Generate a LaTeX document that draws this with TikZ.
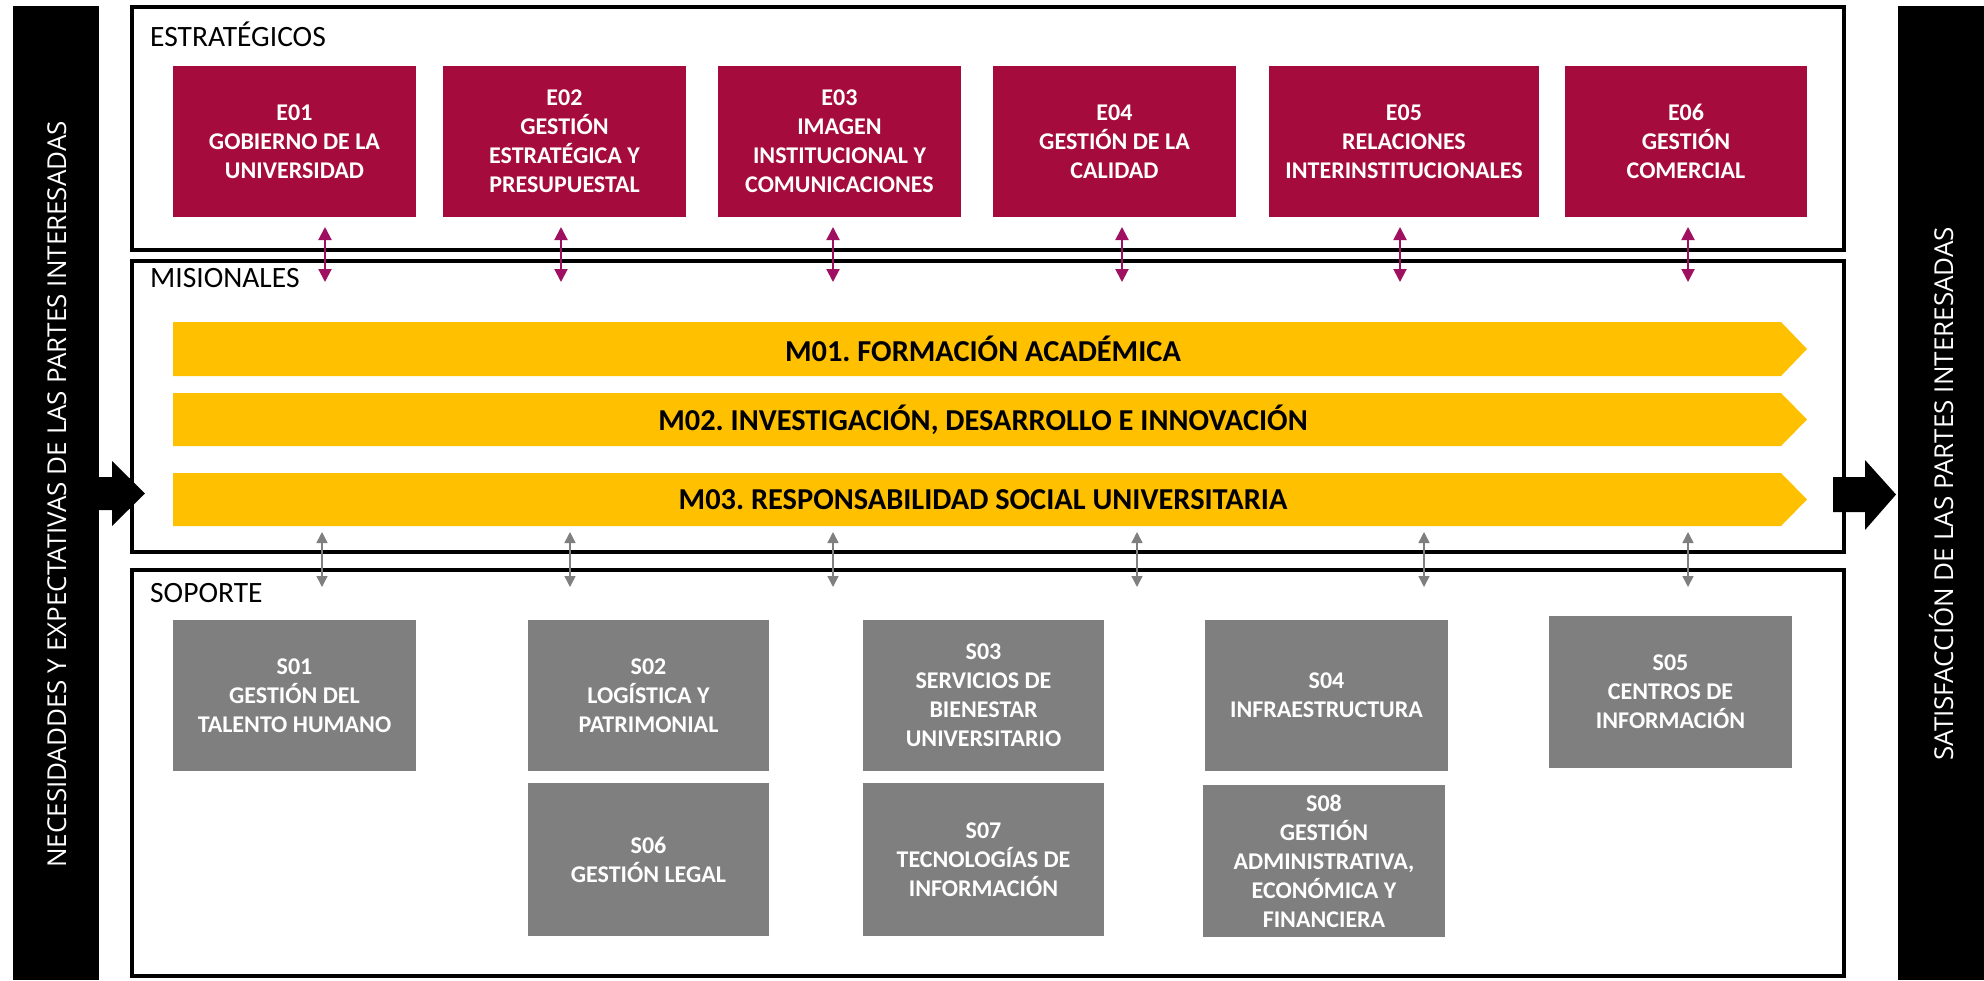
\documentclass[tikz,border=0pt]{standalone}
\usepackage{fontspec}
\setmainfont{Carlito}
\newfontfamily\vfont{Open Sans}
\usetikzlibrary{arrows.meta}
\definecolor{crim}{RGB}{165,11,61}
\definecolor{magarr}{RGB}{160,16,96}
\definecolor{gbox}{RGB}{127,127,127}
\definecolor{gold}{RGB}{255,192,0}
\frenchspacing
\begin{document}
\begin{tikzpicture}[x=1pt,y=-1pt,
  ebox/.style={fill=crim, text=white, font=\bfseries\fontsize{24}{29}\selectfont, align=center, inner sep=0pt, minimum height=151pt},
  sbox/.style={fill=gbox, text=white, font=\bfseries\fontsize{24}{29}\selectfont, align=center, inner sep=0pt},
  frame/.style={draw=black, line width=4pt, inner sep=0pt},
  lbl/.style={anchor=base west, font=\fontsize{29.5}{31}\selectfont, inner sep=0pt},
  marr/.style={draw=magarr, line width=2pt, {Triangle[width=13pt,length=13pt]}-{Triangle[width=13pt,length=13pt]}},
  garr/.style={draw=gbox, line width=1.5pt, {Triangle[width=11pt,length=11pt]}-{Triangle[width=11pt,length=11pt]}},
  mtext/.style={font=\bfseries\fontsize{30.4}{32}\selectfont, inner sep=0pt},
  vtext/.style={text=white, font=\vfont\fontsize{26}{28}\selectfont, rotate=90, anchor=base, inner sep=0pt},
  bar/.style={fill=black, inner sep=0pt}
]
\useasboundingbox (0,0) rectangle (1984,980);
\fill[white] (0,0) rectangle (1984,980);

% side bars
\node[bar, minimum width=86pt, minimum height=974pt] (lbar) at (56,493) {};
\node[bar, minimum width=86pt, minimum height=974pt] (rbar) at (1941,493) {};
\node[vtext] (ltext) at (66,494.5) {NECESIDADDES Y EXPECTATIVAS DE LAS PARTES INTERESADAS};
\node[vtext] (rtext) at (1953,494) {SATISFACCIÓN DE LAS PARTES INTERESADAS};

% frames
\node[frame, minimum width=1712pt, minimum height=242.5pt] (fE) at (988,128.25) {};
\node[frame, minimum width=1712pt, minimum height=291pt] (fM) at (988,406) {};
\node[frame, minimum width=1712pt, minimum height=406.5pt] (fS) at (988,772.75) {};

\node[lbl] (lE) at (150,46) {ESTRATÉGICOS};
\node[lbl] (lM) at (150,287) {MISIONALES};
\node[lbl] (lS) at (150,602) {SOPORTE};

% block arrows
\fill[black] (99,477) -- (112,477) -- (112,461) -- (145,493.5) -- (112,526) -- (112,510) -- (99,510) -- cycle;
\fill[black] (1833,477) -- (1865,477) -- (1865,460) -- (1896,494.5) -- (1865,530) -- (1865,512) -- (1833,512) -- cycle;

% strategic boxes
\node[ebox, minimum width=243pt] (E1) at (294.5,141.5) {E01\\GOBIERNO DE LA\\UNIVERSIDAD};
\node[ebox, minimum width=243pt] (E2) at (564.5,141.5) {E02\\GESTIÓN\\ESTRATÉGICA Y\\PRESUPUESTAL};
\node[ebox, minimum width=243pt] (E3) at (839.5,141.5) {E03\\IMAGEN\\INSTITUCIONAL Y\\COMUNICACIONES};
\node[ebox, minimum width=243pt] (E4) at (1114.5,141.5) {E04\\GESTIÓN DE LA\\CALIDAD};
\node[ebox, minimum width=270pt] (E5) at (1404,141.5) {E05\\RELACIONES\\INTERINSTITUCIONALES};
\node[ebox, minimum width=242pt] (E6) at (1686,141.5) {E06\\GESTIÓN\\COMERCIAL};

% magenta arrows
\foreach \i/\x in {1/325,2/561,3/833,4/1122,5/1400,6/1688}{
  \coordinate (ea\i) at (\x,227);
  \coordinate (eb\i) at (\x,282);
  \draw[marr] (ea\i) -- (eb\i);
}

% missional chevrons
\fill[gold] (173,322) -- (1781,322) -- (1807,349) -- (1781,376) -- (173,376) -- cycle;
\fill[gold] (173,393) -- (1781,393) -- (1807,419.5) -- (1781,446) -- (173,446) -- cycle;
\fill[gold] (173,473) -- (1781,473) -- (1807,499.5) -- (1781,526) -- (173,526) -- cycle;
\node[mtext] (M1) at (983,349) {M01. FORMACIÓN ACADÉMICA};
\node[mtext] (M2) at (983,419.5) {M02. INVESTIGACIÓN, DESARROLLO E INNOVACIÓN};
\node[mtext] (M3) at (983,499.5) {M03. RESPONSABILIDAD SOCIAL UNIVERSITARIA};

% gray arrows
\foreach \i/\x in {1/322,2/570,3/833,4/1137,5/1424,6/1688}{
  \coordinate (ga\i) at (\x,532);
  \coordinate (gb\i) at (\x,587);
  \draw[garr] (ga\i) -- (gb\i);
}

% support boxes
\node[sbox, minimum width=243pt, minimum height=151pt] (S1) at (294.5,695.5) {S01\\GESTIÓN DEL\\TALENTO HUMANO};
\node[sbox, minimum width=241pt, minimum height=151pt] (S2) at (648.5,695.5) {S02\\LOGÍSTICA Y\\PATRIMONIAL};
\node[sbox, minimum width=241pt, minimum height=151pt] (S3) at (983.5,695.5) {S03\\SERVICIOS DE\\BIENESTAR\\UNIVERSITARIO};
\node[sbox, minimum width=243pt, minimum height=151pt] (S4) at (1326.5,695.5) {S04\\INFRAESTRUCTURA};
\node[sbox, minimum width=243pt, minimum height=152pt] (S5) at (1670.5,692) {S05\\CENTROS DE\\INFORMACIÓN};
\node[sbox, minimum width=241pt, minimum height=153pt] (S6) at (648.5,859.5) {S06\\GESTIÓN LEGAL};
\node[sbox, minimum width=241pt, minimum height=153pt] (S7) at (983.5,859.5) {S07\\TECNOLOGÍAS DE\\INFORMACIÓN};
\node[sbox, minimum width=242pt, minimum height=152pt] (S8) at (1324,861) {S08\\GESTIÓN\\ADMINISTRATIVA,\\ECONÓMICA Y\\FINANCIERA};
\end{tikzpicture}
\end{document}
